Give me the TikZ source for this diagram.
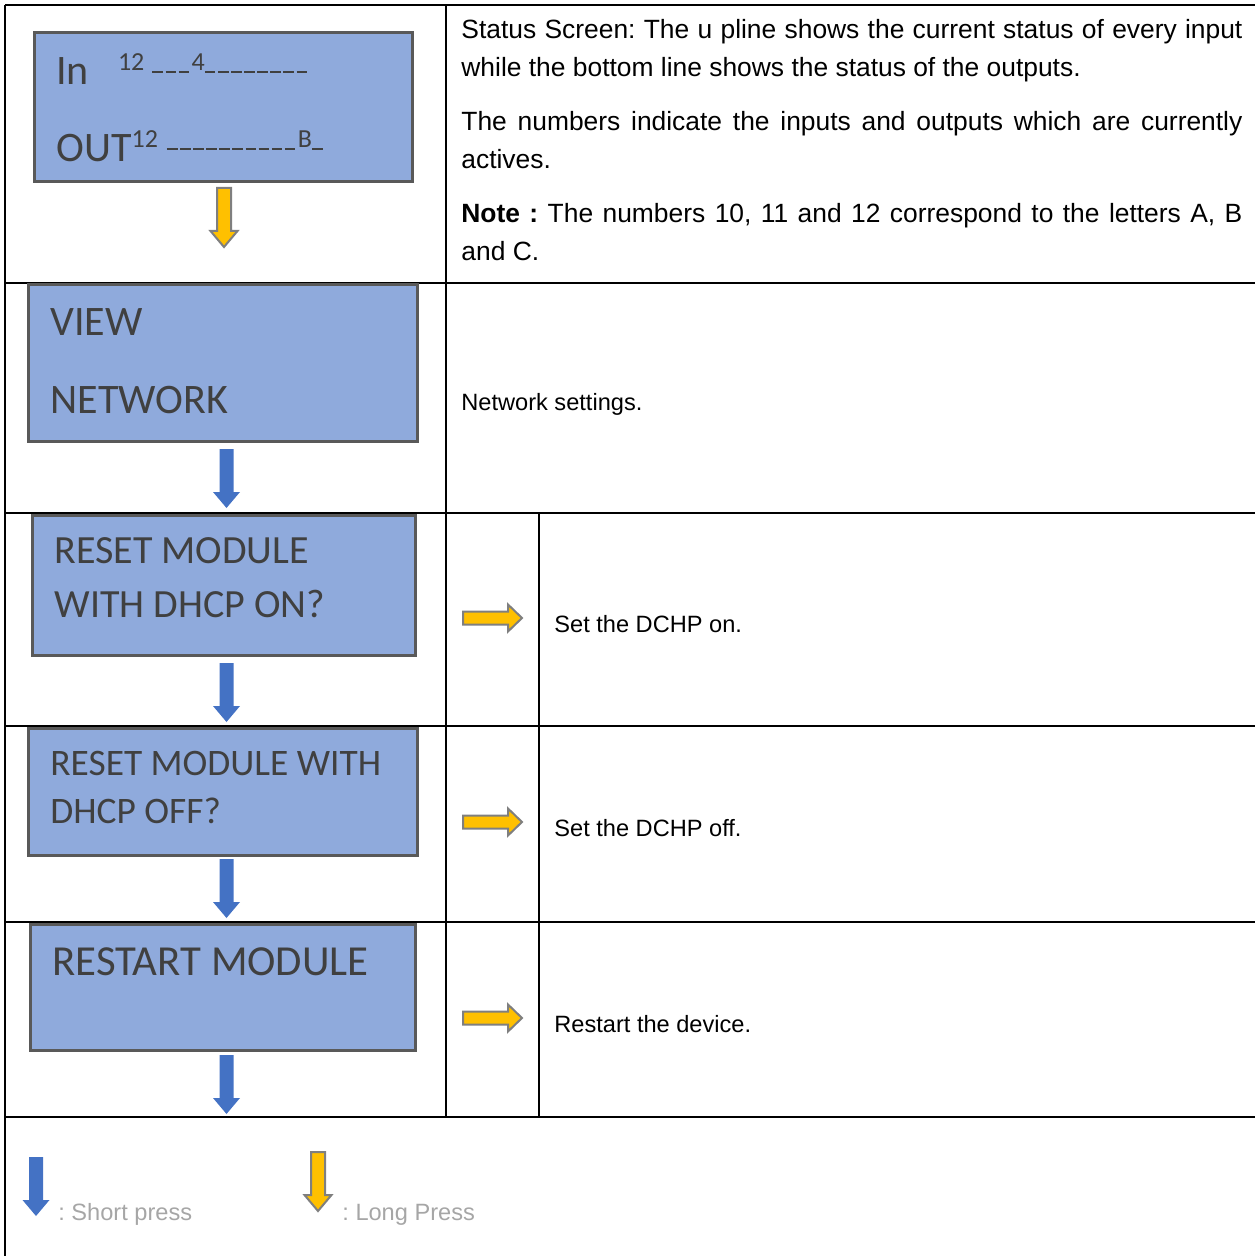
\documentclass[tikz,border=0pt]{standalone}
\usepackage{fontspec}
\setmainfont{Liberation Sans}
\newfontfamily\screenfont{Carlito}
\usetikzlibrary{calc}
\frenchspacing

\definecolor{screenblue}{HTML}{8FAADC}
\definecolor{screenline}{HTML}{595959}
\definecolor{screentext}{HTML}{404040}
\definecolor{shortblue}{HTML}{4472C4}
\definecolor{longyellow}{HTML}{FFC000}
\definecolor{arrowgray}{HTML}{7F7F7F}
\definecolor{legendgray}{HTML}{A6A6A6}

% one segment of the status line
\newcommand\lcdbar{\rule[-1.1pt]{5.3pt}{1pt}\hspace{1.25pt}}

\begin{document}
\begin{tikzpicture}[x=0.5pt,y=-0.5pt,inner sep=0pt,
  pics/blockdown/.style={code={\path[pic actions] (-7,0) -- (-7,43) -- (-13.5,43) -- (0,59) -- (13.5,43) -- (7,43) -- (7,0) -- cycle;}},
  pics/blockright/.style={code={\path[pic actions] (0,-6.5) -- (45,-6.5) -- (45,-13.5) -- (59,0) -- (45,13.5) -- (45,6.5) -- (0,6.5) -- cycle;}}]
\tikzstyle{tableline}=[line width=1.4pt,black]
\tikzstyle{screen}=[draw=screenline,fill=screenblue,line width=1.5pt]
\tikzstyle{screenlabel}=[anchor=base west,text=screentext,font=\screenfont\fontsize{21}{21}\selectfont]
\tikzstyle{cell}=[anchor=base west,font=\fontsize{11.8}{14}\selectfont]
\tikzstyle{legendtext}=[anchor=base west,text=legendgray,font=\fontsize{11.8}{14}\selectfont]
\tikzstyle{shortpress}=[fill=shortblue]
\tikzstyle{longpress}=[fill=longyellow,draw=arrowgray,line width=1pt]

\useasboundingbox (0,0) rectangle (1255,1256);

% table
\draw[tableline] (5,5) -- (1255,5);
\draw[tableline] (5,5) -- (5,1256);
\foreach \y in {283,513,726,922,1117}
  \draw[tableline] (5,\y) -- (1255,\y);
\draw[tableline] (446,5) -- (446,1117);
\draw[tableline] (539,513) -- (539,1117);

% screens
\node[screen,minimum width=189pt,minimum height=74.5pt] (status) at (223.5,107) {};
\node[screen,minimum width=194.5pt,minimum height=78.5pt] (view) at (223,363) {};
\node[screen,minimum width=191.5pt,minimum height=70pt] (dhcpon) at (224,585.5) {};
\node[screen,minimum width=194.5pt,minimum height=63.5pt] (dhcpoff) at (223,792) {};
\node[screen,minimum width=192.5pt,minimum height=63pt] (restart) at (223,987.5) {};

\node[screenlabel] (in) at (56,85) {In\hspace{14.5pt}\raisebox{7pt}{\fontsize{13}{13}\selectfont 12\hspace{4pt}\lcdbar\lcdbar\lcdbar4\lcdbar\lcdbar\lcdbar\lcdbar\lcdbar\lcdbar\lcdbar\lcdbar}};
\node[screenlabel] (out) at (56,162) {OUT\raisebox{7pt}{\fontsize{13}{13}\selectfont 12\hspace{4.5pt}\lcdbar\lcdbar\lcdbar\lcdbar\lcdbar\lcdbar\lcdbar\lcdbar\lcdbar\lcdbar B\lcdbar}};
\node[screenlabel] (view1) at (50,336) {VIEW};
\node[screenlabel] (view2) at (50,414) {NETWORK};
\node[screenlabel,font=\screenfont\fontsize{20}{20}\selectfont] (on1) at (54,563) {RESET MODULE};
\node[screenlabel,font=\screenfont\fontsize{20}{20}\selectfont] (on2) at (54,617) {WITH DHCP ON?};
\node[screenlabel,font=\screenfont\fontsize{18.7}{20}\selectfont] (off1) at (50,775) {RESET MODULE WITH};
\node[screenlabel,font=\screenfont\fontsize{18.7}{20}\selectfont] (off2) at (50,823) {DHCP OFF?};
\node[screenlabel,font=\screenfont\fontsize{21.4}{22}\selectfont] (restart1) at (52,975) {RESTART MODULE};

% descriptions
\node[anchor=north west,text width=390.5pt,align=justify,font=\fontsize{13.2}{19}\selectfont] (statusnote) at (461,18.5)
  {Status Screen: The u pline shows the current status of every input while the bottom line shows the status of the outputs.\par\vspace{8pt}
   The numbers indicate the inputs and outputs which are currently actives.\par\vspace{8pt}
   \textbf{Note :} The numbers 10, 11 and 12 correspond to the letters A, B and C.};
\node[cell] (viewnote) at (461,410) {Network settings.};
\node[cell] (onnote) at (554,632) {Set the DCHP on.};
\node[cell] (offnote) at (554,836) {Set the DCHP off.};
\node[cell] (restartnote) at (554,1032) {Restart the device.};

% arrows
\pic[longpress] at ($(status.south)+(0.5,5)$) {blockdown};
\pic[shortpress] at ($(view.south)+(3.5,6)$) {blockdown};
\pic[shortpress] at ($(dhcpon.south)+(2.5,6)$) {blockdown};
\pic[shortpress] at ($(dhcpoff.south)+(3.5,2)$) {blockdown};
\pic[shortpress] at ($(restart.south)+(3.5,3)$) {blockdown};
\foreach \y in {618,822,1018}
  \pic[longpress] at (463,\y) {blockright};

% legend
\pic[shortpress] at (36,1157) {blockdown};
\node[legendtext] (short) at (58,1220) {: Short press};
\pic[longpress] at (318,1152) {blockdown};
\node[legendtext] (long) at (342,1220) {: Long Press};
\end{tikzpicture}
\end{document}
